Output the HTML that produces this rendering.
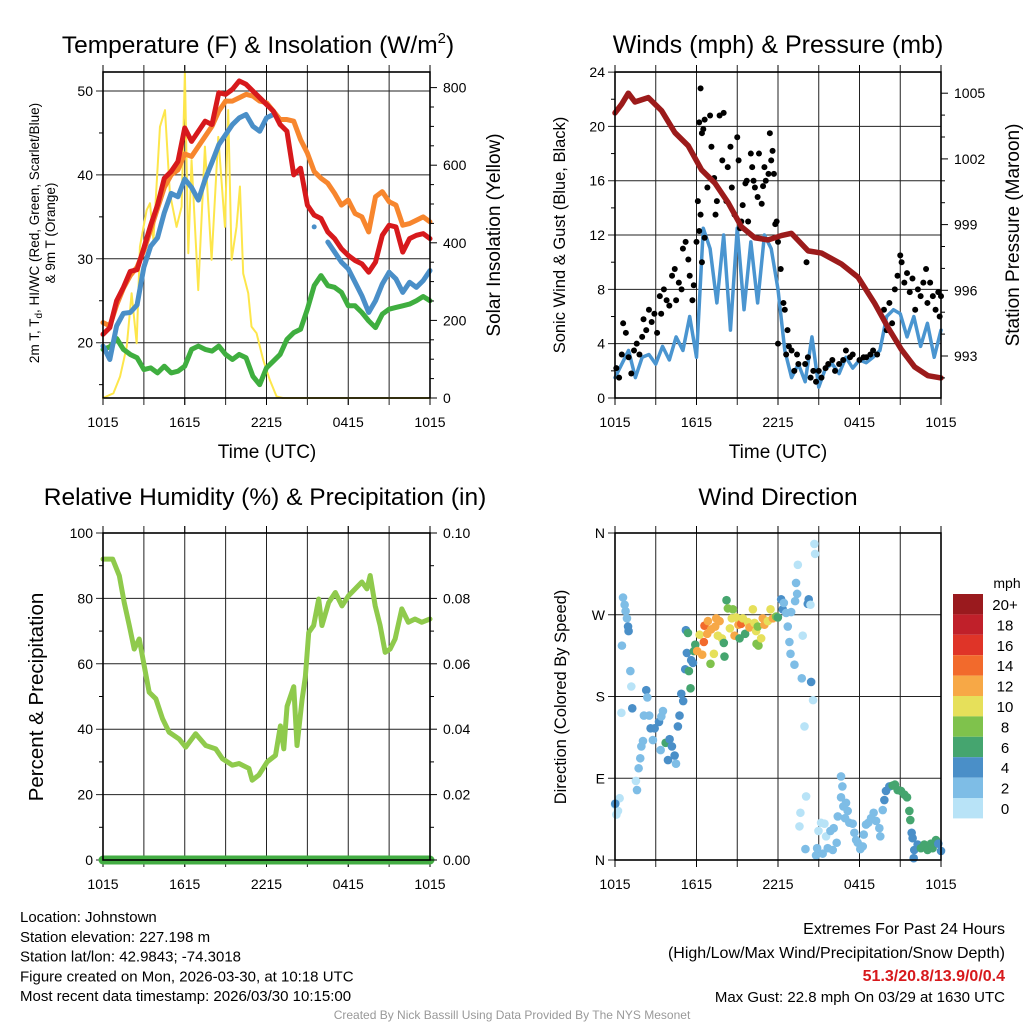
<!DOCTYPE html>
<html><head><meta charset="utf-8"><style>
body{margin:0;background:#fff;width:1024px;height:1024px;overflow:hidden;font-family:"Liberation Sans",sans-serif;}
svg text{font-family:"Liberation Sans",sans-serif;}
</style></head><body>
<svg id="c" width="1024" height="1024" xmlns="http://www.w3.org/2000/svg"></svg>
<script>
// ---------- DATA ----------
const halfHours=[];for(let i=0;i<49;i++)halfHours.push(i*0.5);
const xTickLabels=["1015","1615","2215","0415","1015"];
const tRed=[21,21.8,25,26.6,28.5,28.7,31.3,34,36.4,39.6,40.4,41.6,45.6,44,45.2,46.4,46,49.8,49.6,50.2,51.2,50.8,50,49.2,48.4,47.6,46,45.2,40,40.8,36.4,35.2,34.8,33.2,32.4,31.2,30.4,29.8,29.4,28.4,29.6,32.8,34,33.8,30.8,32.4,32.8,33,32.4];
const tOrange=[22.4,22.0,24.5,26.5,28.0,29,31,33.5,36,38.5,40,40.6,42.5,42.2,43.4,44.6,45.8,47.6,48.8,48.8,49.2,49.6,49.4,48.8,48.6,47.6,46.6,46.6,46.4,44.2,42.6,40.4,39.6,39.0,37.8,36.4,37.0,35.4,35.0,33.2,37.4,38.0,36.8,36.4,34.0,34.2,34.6,35.0,34.4];
const tBlue=[19.6,18.0,22.0,23.5,23.6,24.5,29,31.5,32.5,35.5,37.8,37.4,39.5,38.5,37,39.5,41.5,43.6,44.8,46.0,46.8,47.2,45.8,45.2,46.8,47.2,null,null,null,null,null,33.8,null,32,30.8,29.6,28.8,27.2,25.6,23.6,25.0,27.0,28.4,27.6,26.0,27.2,26.6,27.4,28.6];
const tGreen=[19.2,19.5,20.5,19.2,18.6,18.2,16.8,17.0,16.4,17.2,16.4,16.6,17.2,19.2,19.6,19.2,19.0,19.6,18.6,18.0,18.6,18.2,16.0,15.0,17.0,17.8,18.6,20.4,21.2,21.6,24.0,26.8,28.0,26.8,26.6,26.0,24.4,24.4,23.6,22.6,21.8,23.4,24.0,24.2,24.4,24.6,25.0,25.5,25.0];
const solarT=[0,0.76,1.25,1.74,2.1,2.47,2.71,3.2,3.45,3.7,4.18,4.55,4.91,5.4,5.77,6.01,6.26,6.5,6.99,7.48,7.97,8.46,8.95,9.19,9.44,9.8,10.05,10.29,10.66,10.9,11.27,11.76,12.25,12.74,13.2,24];
const solarV=[0,12,55,132,270,141,390,484,502,407,699,742,527,441,493,841,373,613,278,648,356,673,441,742,356,441,545,321,270,184,167,98,46,4,0,0];
const windV=[1.5,2.5,3.5,1.5,3.0,3.2,2.5,3.8,2.8,4.5,3.5,6.0,3.0,12.5,11.0,7.0,12.0,5.0,12.5,6.5,11.5,7.0,12.0,11.0,8.0,3.5,1.5,2.5,1.2,4.5,0.8,2.2,2.5,1.8,3.0,2.2,2.8,2.6,3.0,3.5,6.0,6.5,6.2,4.5,6.0,3.8,5.5,3.0,5.0];
const gustT=[0.1,0.3,0.5,0.6,0.8,1.0,1.2,1.4,1.6,1.8,2.0,2.1,2.3,2.5,2.7,2.9,3.1,3.3,3.4,3.6,3.8,4.0,4.2,4.4,4.5,4.7,4.9,5.0,5.2,5.4,5.5,5.7,5.8,6.0,6.2,6.4,6.6,6.3,6.1,6.2,6.3,6.4,6.5,6.6,6.8,7.0,7.1,7.3,7.5,7.4,7.7,7.9,8.0,8.2,8.3,8.5,8.6,8.8,9.0,9.1,9.2,9.4,9.6,9.8,10.0,10.1,10.2,10.3,10.5,10.6,10.8,10.9,11.0,11.1,11.3,11.4,11.5,11.6,11.7,11.8,9.3,9.7,11.9,12.0,12.2,12.4,12.5,12.7,12.8,12.6,13.0,13.2,13.4,13.5,14.0,14.2,14.4,14.6,14.8,15.0,15.2,15.5,15.7,16.0,16.2,16.5,16.8,17.0,17.3,17.5,18.0,18.3,18.5,18.8,19.0,19.3,12.0,14.1,19.8,20.0,20.2,20.4,20.6,20.8,21.0,21.1,21.3,21.5,21.7,21.9,22.1,22.3,22.5,22.7,22.9,23.0,23.2,23.4,23.6,23.8,23.9,24.0];
const gustV=[2.2,1.5,3.2,5.5,4.8,3.0,1.8,3.5,4.0,3.2,4.5,5.8,5.0,6.5,5.6,6.2,4.8,7.5,6.2,8.0,7.2,6.8,9.0,9.5,7.2,8.5,8.0,11.0,11.5,10.2,9.0,7.2,8.3,11.5,12.3,10.0,11.8,13.5,14.5,20.3,22.8,19.5,19.8,20.5,15.5,20.8,18.5,16.2,14.5,13.5,20.8,17.5,21.0,14.5,17.0,18.5,15.5,13.5,19.2,17.5,12.5,14.2,15.8,13.0,18.0,17.0,16.0,15.5,14.8,18.0,14.3,15.6,17.0,16.0,16.5,19.5,17.5,18.2,16.5,12.8,13.0,16.0,13.0,11.5,9.5,7.0,6.5,5.0,3.8,3.2,3.5,2.0,3.2,2.5,2.5,3.0,1.5,2.0,1.2,2.0,1.5,2.2,2.5,2.8,2.0,2.5,2.8,3.5,3.0,3.2,2.8,3.0,3.0,3.2,3.5,3.2,4.0,10.0,6.5,5.0,7.0,5.5,8.0,9.0,10.5,10.0,8.5,9.2,7.8,8.8,6.5,8.0,7.5,8.5,9.5,7.0,8.5,7.5,6.5,7.8,6.0,7.5];
const pressT=[0,0.49,0.98,1.47,2.45,3.43,4.41,5.39,6.37,7.35,8.33,9.31,10.29,11.27,12.25,12.99,14.22,15.2,16.67,17.89,19.12,20.1,21.08,22.06,23.04,24];
const pressV=[1004.1,1004.5,1005.0,1004.6,1004.8,1004.2,1003.2,1002.6,1001.5,1000.9,1000.0,998.9,998.4,998.3,998.5,998.6,997.8,997.7,997.2,996.6,995.4,994.3,993.3,992.5,992.1,992.0];
const rhT=[0,0.71,1.2,1.56,1.93,2.29,2.66,3.02,3.39,3.88,4.37,4.85,5.59,6.07,6.8,7.54,8.27,8.76,9.49,9.98,10.71,10.95,11.44,12.05,12.66,13.02,13.27,13.51,14.0,14.24,14.61,14.85,15.1,15.46,15.83,16.07,16.56,17.05,17.54,18.02,18.51,19.0,19.37,19.61,19.98,20.34,20.71,21.07,21.44,21.93,22.41,22.9,23.39,24];
const rhV=[92,92,86.9,78.7,71.7,64.5,67.6,59.5,51.3,49.3,43.2,39.1,37,34.5,38.6,35,34,31,29,29.5,28,24.4,26,30,32,41,34,47,53,35,49,56,69.6,71.7,79.8,71.7,78.7,81.8,77.7,80.8,82.9,85,82.9,87,77.7,71.7,63.5,64.5,67.6,76.8,72.7,73.7,72.7,73.7];
const precipT=[0,24];
const precipV=[0,0];
const dirT=[0.59,0.71,0.78,0.88,0.96,1.0,0.51,1.13,1.2,2.3,2.38,0.47,1.27,2.13,2.52,2.62,3.24,3.53,3.41,2.92,2.79,2.06,1.94,1.86,1.74,1.54,1.62,3.73,4.02,4.19,3.36,3.9,4.39,4.49,4.63,4.75,5.02,4.88,5.56,5.17,5.44,5.74,5.61,5.29,5.22,5.37,5.91,5.81,6.05,6.42,6.23,6.59,6.54,6.84,6.79,7.08,7.45,7.38,7.57,7.87,7.7,8.01,7.28,7.03,8.06,8.21,8.31,8.68,8.6,8.46,8.8,9.09,8.92,9.29,9.41,9.17,9.58,9.78,9.9,10.15,10.27,10.39,10.51,10.56,10.42,10.76,10.88,11.0,11.25,11.45,11.62,11.86,11.99,12.23,12.35,12.6,12.43,12.97,12.72,12.84,12.92,13.21,13.33,13.46,13.41,13.26,13.82,14.26,14.19,14.39,14.44,13.75,14.58,13.95,14.68,14.73,0,0.1,0.22,0.34,0.02,14.07,13.65,13.58,14.02,14.88,14.8,14.98,15.17,15.42,15.54,15.86,16.1,16.32,15.66,15.29,16.03,16.64,16.74,16.64,16.81,17.01,17.13,16.4,16.94,17.25,17.5,17.62,17.75,17.87,18.06,18.24,18.31,18.48,18.65,18.85,19.04,19.22,19.46,19.53,19.71,19.83,19.95,20.2,20.44,20.61,20.81,21.05,21.3,21.5,21.67,21.74,21.84,21.91,22.03,21.99,22.28,22.52,22.77,23.01,23.26,23.38,23.63,23.8,24.0];
const dirV=[289,281,274,266,257,252,236,208,191,187,179,162,167,159,159,145,152,164,158,145,132,131,125,112,101,87,77,129,133,125,121,110,115,106,147,159,175,183,189,210,208,217,220,228,253,250,237,230,230,226,248,258,240,263,249,254,266,257,247,244,263,239,227,216,224,286,277,276,266,255,247,259,267,260,266,244,249,262,256,276,261,252,257,236,238,244,266,259,263,276,266,268,267,287,276,272,283,273,257,240,227,215,305,325,293,285,247,287,282,281,196,200,176,147,348,337,61,50,54,68,62,70,52,37,12,13,5,32,41,40,26,32,35,19,13,7,11,92,81,69,59,63,54,48,46,41,40,30,22,19,12,15,28,39,41,46,52,43,35,26,55,66,76,81,82,83,77,76,72,69,54,44,30,24,11,2,17,13,17,11,18,13,22,18,10];
const dirS=[3,3,3,3,5,5,3,3,1,5,3,1,5,3,3,5,5,3,3,5,3,3,3,3,3,1,3,7,5,5,3,5,5,3,5,5,5,5,7,5,7,5,5,5,5,7,7,7,13,13,11,15,15,13,13,13,13,13,11,11,13,7,11,9,7,7,9,9,11,11,13,13,11,15,11,7,7,11,13,11,11,11,9,9,9,11,13,13,11,11,13,9,7,5,5,3,3,3,3,3,3,3,3,1,3,3,1,5,5,1,5,3,1,1,1,1,1,1,1,1,5,1,1,1,3,3,3,1,1,1,1,3,3,3,3,3,3,3,3,3,3,3,3,3,3,3,3,3,3,3,3,3,3,3,3,3,3,3,3,3,3,5,5,5,7,7,7,7,7,7,7,7,5,5,5,5,5,7,7,7,7,7,7,5,5,5];
const cbLabels=["20+","18","16","14","12","10","8","6","4","2","0"];
const cbColors=["#9a1a1e","#c0202a","#df3428","#f26a2c","#f7a846","#e6e05a","#7fc24c","#45a56f","#4a8fc8","#7ebde6","#b8e3f7"];

// ---------- HELPERS ----------
const NS="http://www.w3.org/2000/svg";const svg=document.getElementById('c');
function mk(tag,attrs,parent){const e=document.createElementNS(NS,tag);for(const k in attrs)e.setAttribute(k,attrs[k]);(parent||svg).appendChild(e);return e;}
function txt(s,x,y,size,anchor,parent,extra){const e=mk('text',Object.assign({x:x,y:y,'font-size':size,'text-anchor':anchor||'middle',fill:'#000'},extra||{}),parent);e.textContent=s;return e;}

function panel(name,L,T,R,B,yTicks,yFn,yLabels,yMinor){
  const g=mk('g',{});
  
  
  const xf=h=>L+h*(R-L)/24;
  for(let h=3;h<24;h+=3){const l=mk('line',{x1:xf(h),x2:xf(h),y1:T-7,y2:B+7,stroke:'#222','stroke-width':1},g);
    }
  (yMinor||[]).forEach(v=>{const y=yFn(v);mk('line',{x1:L-4,x2:L,y1:y,y2:y,stroke:'#000'},g);});
  yTicks.forEach((v,i)=>{const y=yFn(v);const l=mk('line',{x1:L-7,x2:R,y1:y,y2:y,stroke:'#222','stroke-width':1},g);
    
    const t=txt(yLabels[i],L-10,y+5,14,'end',g);});
  for(let i=0;i<5;i++){const h=i*6;mk('line',{x1:xf(h),x2:xf(h),y1:B,y2:B+7,stroke:'#000'},g);mk('line',{x1:xf(h),x2:xf(h),y1:T-7,y2:T,stroke:'#000'},g);
    const t=txt(xTickLabels[i],xf(h),B+29,14,'middle',g);}
  return {g:g,xf:xf};
}
function frame(L,T,R,B){const r=mk('rect',{x:L,y:T,width:R-L,height:B-T,fill:'none',stroke:'#000','stroke-width':1.6});
  }
function line(xs,ys,xf,yf,color,w,name){let seg=[];const segs=[];
  xs.forEach((x,i)=>{if(ys[i]===null||ys[i]===undefined){if(seg.length)segs.push(seg);seg=[];}else seg.push([xf(x),yf(ys[i])]);});
  if(seg.length)segs.push(seg);
  segs.forEach(s=>{let e;if(s.length===1){e=mk('circle',{cx:s[0][0],cy:s[0][1],r:w/2,fill:color});}
    else e=mk('polyline',{points:s.map(p=>p.join(',')).join(' '),fill:'none',stroke:color,'stroke-width':w,'stroke-linejoin':'round','stroke-linecap':'round'});
    });}
function rightTicks(vals,labels,yf,R,name,minor){(minor||[]).forEach(v=>{const y=yf(v);mk('line',{x1:R,x2:R+4,y1:y,y2:y,stroke:'#000'});});
  vals.forEach((v,i)=>{const y=yf(v);mk('line',{x1:R,x2:R+7,y1:y,y2:y,stroke:'#000'});
  const t=txt(labels[i],R+13,y+5,14,'start');});}

// ---------- PANEL 1: Temperature ----------
{const L=103,T=72,R=430,B=398;
 const yT=v=>91+(50-v)*8.39, yS=v=>398-v*0.388;
 const p=panel('temperature-panel',L,T,R,B,[20,30,40,50],yT,["20","30","40","50"],[15,25,35,45]);
 line(solarT,solarV,p.xf,yS,'#fde64b',2,'solar-line');
 line(halfHours,tGreen,p.xf,yT,'#3fae3f',5,'dewpoint-line');
 line(halfHours,tOrange,p.xf,yT,'#f7862e',5,'9m-temp-line');
 line(halfHours,tBlue,p.xf,yT,'#4a8fc8',5,'heat-index-windchill-line');
 line(halfHours,tRed,p.xf,yT,'#d7191c',5,'2m-temp-line');
 frame(L,T,R,B);
 rightTicks([0,200,400,600,800],["0","200","400","600","800"],yS,R,'right-tick-label',[50,100,150,250,300,350,450,500,550,650,700,750]);
 let t=txt('Temperature (F) & Insolation (W/m',258,53,24.5);
 const sp=mk('tspan',{dy:-10,'font-size':15},t);sp.textContent='2';const sp2=mk('tspan',{dy:10},t);sp2.textContent=')';
 t=txt('Time (UTC)',267,458,19);
 t=txt('Solar Insolation (Yellow)',0,0,19,'middle',null,{transform:'translate(500,235) rotate(-90)'});
 t=txt('2m T, T',0,0,13.5,'middle',null,{transform:'translate(39,233) rotate(-90)'});
 const s1=mk('tspan',{dy:3,'font-size':10},t);s1.textContent='d';const s2=mk('tspan',{dy:-3},t);s2.textContent=', HI/WC (Red, Green, Scarlet/Blue)';
 t=txt('& 9m T (Orange)',0,0,13.5,'middle',null,{transform:'translate(55,233) rotate(-90)'});
}
// ---------- PANEL 2: Winds ----------
{const L=615,T=72,R=941,B=398;
 const yW=v=>398-v*13.58, yP=v=>356-(v-993)*21.9;
 const p=panel('winds-panel',L,T,R,B,[0,4,8,12,16,20,24],yW,["0","4","8","12","16","20","24"],[2,6,10,14,18,22]);
 line(halfHours,windV,p.xf,yW,'#4a95d0',3.5,'sonic-wind-line');
 gustT.forEach((h,i)=>{const c=mk('circle',{cx:p.xf(h),cy:yW(gustV[i]),r:3,fill:'#000'});
  });
 line(pressT,pressV,p.xf,yP,'#9c1b1b',5.5,'pressure-line');
 frame(L,T,R,B);
 rightTicks([993,996,999,1002,1005],["993","996","999","1002","1005"],yP,R,'pressure-tick-label',[992,994,995,997,998,1000,1001,1003,1004]);
 let t=txt('Winds (mph) & Pressure (mb)',778,53,25);
 t=txt('Time (UTC)',778,458,19);
 t=txt('Sonic Wind & Gust (Blue, Black)',0,0,16.5,'middle',null,{transform:'translate(565,235) rotate(-90)'});
 t=txt('Station Pressure (Maroon)',0,0,19,'middle',null,{transform:'translate(1019,235) rotate(-90)'});
}
// ---------- PANEL 3: RH ----------
{const L=103,T=533,R=430,B=860;
 const yR=v=>860-v*3.27, yPr=v=>860-v*3270;
 const p=panel('humidity-panel',L,T,R,B,[0,20,40,60,80,100],yR,["0","20","40","60","80","100"],[10,30,50,70,90]);
 line(rhT,rhV,p.xf,yR,'#8fca4c',5,'humidity-line');
 line(precipT,precipV,p.xf,yPr,'#43ad43',9,'precipitation-line');
 frame(L,T,R,B);
 rightTicks([0,0.02,0.04,0.06,0.08,0.1],["0.00","0.02","0.04","0.06","0.08","0.10"],yPr,R,'precip-tick-label',[0.01,0.03,0.05,0.07,0.09]);
 let t=txt('Relative Humidity (%) & Precipitation (in)',265,505,24.5);
 t=txt('Percent & Precipitation',0,0,20.5,'middle',null,{transform:'translate(43,697) rotate(-90)'});
}
// ---------- PANEL 4: Wind direction ----------
{const L=615,T=533,R=941,B=860;
 const yD=v=>860-v*327/360;
 const p=panel('wind-direction-panel',L,T,R,B,[0,90,180,270,360],yD,["N","E","S","W","N"]);
 dirT.forEach((h,i)=>{const ci=10-Math.min(10,Math.floor(dirS[i]/2));
  const c=mk('circle',{cx:p.xf(h),cy:yD(dirV[i]),r:4.3,fill:cbColors[ci]});
  });
 frame(L,T,R,B);
 let t=txt('Wind Direction',778,505,24.5);
 t=txt('Direction (Colored By Speed)',0,0,16.5,'middle',null,{transform:'translate(566,697) rotate(-90)'});
 cbColors.forEach((c,i)=>{const r=mk('rect',{x:953,y:594+i*20.4,width:30,height:20.4,fill:c});
  
  const l=txt(cbLabels[i],1005,594+i*20.4+16,15,'middle');});
 t=txt('mph',1007,588,14);
}
// ---------- Footer text ----------
["Location: Johnstown","Station elevation: 227.198 m","Station lat/lon: 42.9843; -74.3018","Figure created on Mon, 2026-03-30, at 10:18 UTC","Most recent data timestamp: 2026/03/30 10:15:00"].forEach((s,i)=>{
 const t=txt(s,20,922+i*19.8,15,'start');});
{let t=txt('Extremes For Past 24 Hours',1005,934,16,'end');
 t=txt('(High/Low/Max Wind/Precipitation/Snow Depth)',1005,958,16,'end');
 t=txt('51.3/20.8/13.9/0/0.4',1005,981,16,'end',null,{fill:'#d7191c','font-weight':'bold'});
 t=txt('Max Gust: 22.8 mph On 03/29 at 1630 UTC',1005,1002,15,'end');
 t=txt('Created By Nick Bassill Using Data Provided By The NYS Mesonet',512,1019,12,'middle',null,{fill:'#999'});}
</script>
</body></html>
